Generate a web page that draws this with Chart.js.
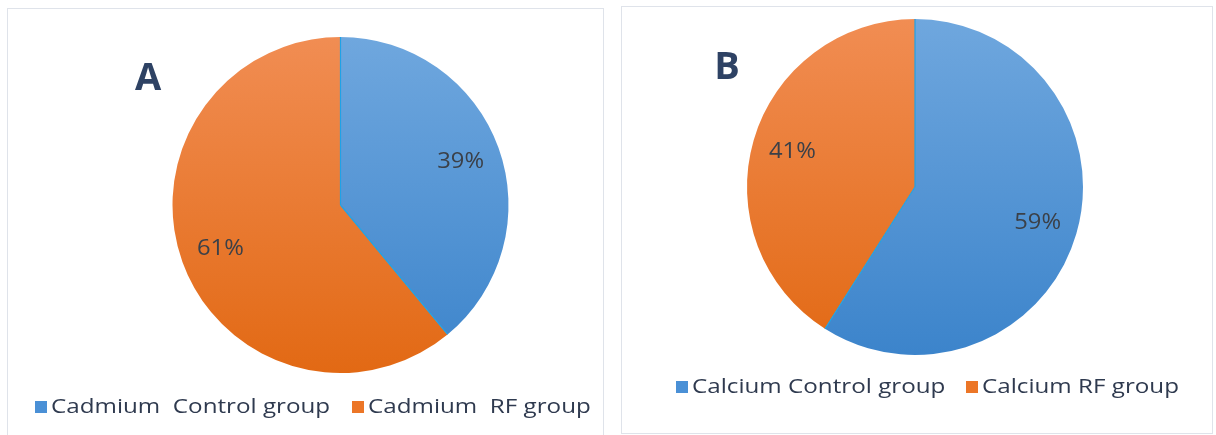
<!DOCTYPE html>
<html>
<head>
<meta charset="utf-8">
<script src="https://cdn.jsdelivr.net/npm/chart.js@4.4.1/dist/chart.umd.min.js"></script>
<style>
  html, body { margin: 0; padding: 0; background: #ffffff; }
  body { width: 1216px; height: 435px; position: relative; overflow: hidden; }
  .panel { position: absolute; border: 1px solid #dfe3ea; box-sizing: border-box; background: #fff; }
  .panel canvas { position: absolute; left: 0; top: 0; }
</style>
</head>
<body>
<div class="panel" id="pA" style="left:7px;top:8px;width:597px;height:430px;"><canvas id="cA"></canvas></div>
<div class="panel" id="pB" style="left:621px;top:6px;width:592px;height:428px;"><canvas id="cB"></canvas></div>
<script>
// ---- data ----
const labelsA = ["Cadmium  Control group", "Cadmium  RF group"];
const valuesA = [39, 61];
const labelsB = ["Calcium Control group", "Calcium RF group"];
const valuesB = [59, 41];
const panelLetters = ["A", "B"];

const FONT = "'Open Sans', 'Noto Sans', sans-serif";

function sliceColors(context) {
  const chart = context.chart;
  const { ctx, chartArea } = chart;
  if (!chartArea) return context.dataIndex === 0 ? '#5597d4' : '#ec7a35';
  const meta = chart.getDatasetMeta(0);
  const a = meta.data[0];
  const r = a && a.outerRadius ? a.outerRadius : 168;
  const cy = a && a.y ? a.y : (chartArea.top + chartArea.bottom) / 2;
  const g = ctx.createLinearGradient(0, cy - r, 0, cy + r);
  if (context.dataIndex === 0) { g.addColorStop(0, '#6fa7de'); g.addColorStop(1, '#3c84cb'); }
  else { g.addColorStop(0, '#f18d53'); g.addColorStop(1, '#e26914'); }
  return g;
}

function stretchedText(ctx, text, x, y, sx) {
  ctx.save();
  ctx.translate(x, y);
  ctx.scale(sx, 1);
  ctx.fillText(text, 0, 0);
  ctx.restore();
}

const overlay = {
  id: 'overlay',
  afterDatasetsDraw(chart, args, opts) {
    const ctx = chart.ctx;
    const meta = chart.getDatasetMeta(0);
    const ds = chart.data.datasets[0];
    ctx.save();
    // divider lines
    ctx.strokeStyle = '#1fa2e6';
    ctx.lineWidth = 1.2;
    meta.data.forEach(arc => {
      const p = arc.getProps(['x','y','startAngle','outerRadius'], true);
      ctx.beginPath();
      ctx.moveTo(p.x, p.y);
      ctx.lineTo(p.x + Math.cos(p.startAngle) * p.outerRadius, p.y + Math.sin(p.startAngle) * p.outerRadius);
      ctx.stroke();
    });
    // percentage labels
    ctx.fillStyle = '#3b4048';
    ctx.font = '22px ' + FONT;
    ctx.textAlign = 'center';
    ctx.textBaseline = 'middle';
    const total = ds.data.reduce((s, v) => s + v, 0);
    meta.data.forEach((arc, i) => {
      const p = arc.getProps(['x','y','startAngle','endAngle','outerRadius'], true);
      const mid = (p.startAngle + p.endAngle) / 2;
      const rr = p.outerRadius * 0.76;
      const pct = Math.round(ds.data[i] / total * 100) + '%';
      stretchedText(ctx, pct, p.x + Math.cos(mid) * rr, p.y + Math.sin(mid) * rr, 1.08);
    });
    // panel letter
    ctx.fillStyle = '#2e4264';
    ctx.font = 'bold 38px ' + FONT;
    ctx.textAlign = 'center';
    ctx.textBaseline = 'alphabetic';
    ctx.fillText(opts.letter, opts.lx, opts.ly);
    // legend
    ctx.font = '20px ' + FONT;
    ctx.textAlign = 'left';
    ctx.textBaseline = 'middle';
    const colors = ['#4a90d6', '#ec7627'];
    chart.data.labels.forEach((lab, i) => {
      const x = opts.legendX[i];
      ctx.fillStyle = colors[i];
      ctx.fillRect(x, opts.legendY - 6, 12, 12);
      ctx.fillStyle = '#2f3a4f';
      stretchedText(ctx, lab, x + 16, opts.legendY, 1.21);
    });
    ctx.restore();
  }
};

function makePie(id, w, h, labels, values, pad, extra) {
  const cv = document.getElementById(id);
  cv.width = w; cv.height = h;
  cv.style.width = w + 'px'; cv.style.height = h + 'px';
  return new Chart(cv, {
    type: 'pie',
    data: {
      labels: labels,
      datasets: [{
        data: values,
        backgroundColor: sliceColors,
        borderWidth: 0,
        radius: 168
      }]
    },
    options: {
      responsive: false,
      animation: false,
      events: [],
      layout: { padding: pad },
      plugins: {
        legend: { display: false },
        tooltip: { enabled: false },
        overlay: extra
      }
    },
    plugins: [overlay]
  });
}

// Panel A content origin (8,9)
makePie('cA', 595, 428, labelsA, valuesA,
  { left: 70, right: 0, top: 0, bottom: 36 },
  { letter: panelLetters[0], lx: 140, ly: 81, legendX: [27, 344], legendY: 398 });
// Panel B content origin (622,7)
makePie('cB', 590, 426, labelsB, valuesB,
  { left: 0, right: 4, top: 0, bottom: 66 },
  { letter: panelLetters[1], lx: 105, ly: 72, legendX: [54, 344], legendY: 380 });
</script>
</body>
</html>
